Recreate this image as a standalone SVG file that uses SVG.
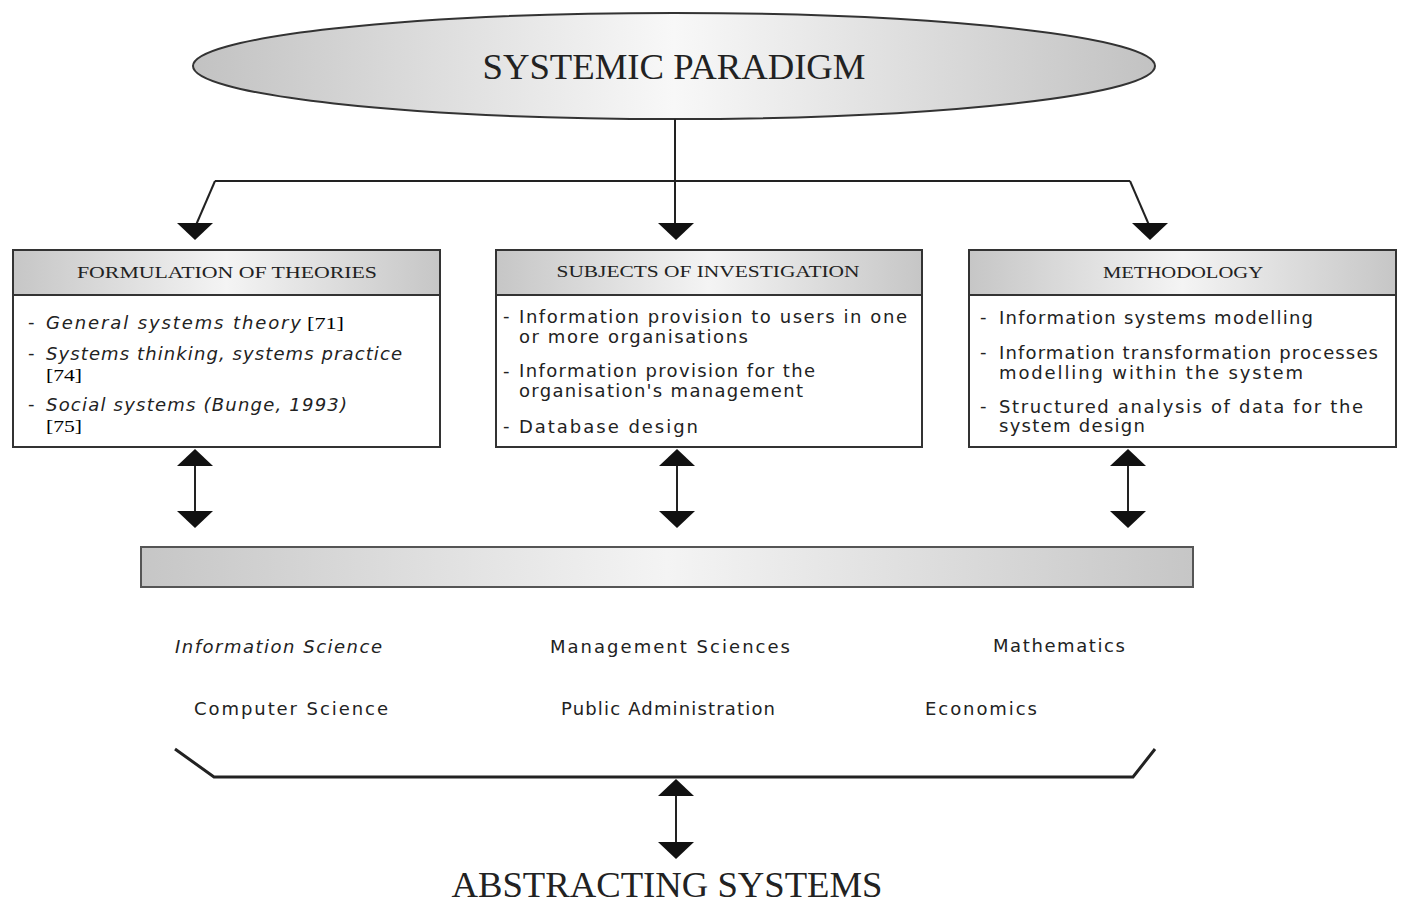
<svg xmlns="http://www.w3.org/2000/svg" width="1404" height="905" viewBox="0 0 1404 905">
  <style>
    .serif { font-family: "Liberation Serif", "Times New Roman", serif; fill: #222; }
    .title { font-size: 35px; }
    .head { font-size: 16px; }
    .body { font-family: "DejaVu Sans", "Liberation Sans", sans-serif; font-size: 18px; fill: #222; }
    .it { font-style: italic; }
    .ref { font-family: "Liberation Serif", serif; font-style: normal; font-size: 17px; }
    .box { fill: #fff; stroke: #333; stroke-width: 2; }
    .band { fill: url(#hgrad); stroke: #333; stroke-width: 2; }
    .line { fill: none; stroke: #222; stroke-width: 2; }
    .head-tri { fill: #111; }
  </style>
  <defs>
    <linearGradient id="hgrad" x1="0" y1="0" x2="1" y2="0">
      <stop offset="0" stop-color="#c6c6c6"/>
      <stop offset="0.5" stop-color="#f4f4f4"/>
      <stop offset="1" stop-color="#c6c6c6"/>
    </linearGradient>
    <linearGradient id="egrad" x1="0" y1="0" x2="1" y2="0">
      <stop offset="0" stop-color="#c2c2c2"/>
      <stop offset="0.5" stop-color="#f8f8f8"/>
      <stop offset="1" stop-color="#c2c2c2"/>
    </linearGradient>
    <!-- filled triangles, tip at origin -->
    <path id="triDown" d="M-18,-17 L18,-17 L0,0 Z"/>
    <path id="triUp" d="M-18,17 L18,17 L0,0 Z"/>
  </defs>

  <rect width="1404" height="905" fill="#fff"/>

  <!-- top ellipse -->
  <g id="paradigm">
    <ellipse cx="674" cy="66" rx="481" ry="53" fill="url(#egrad)" stroke="#333" stroke-width="2"/>
    <text class="serif title" x="674" y="79" text-anchor="middle" textLength="383" lengthAdjust="spacingAndGlyphs">SYSTEMIC  PARADIGM</text>
  </g>

  <!-- connectors -->
  <g id="connectors">
    <path class="line" d="M675,119 V225"/>
    <path class="line" d="M215,181 H1130"/>
    <path class="line" d="M215,181 L196,225"/>
    <path class="line" d="M1130,181 L1149,225"/>
    <use href="#triDown" class="head-tri" x="195" y="240"/>
    <use href="#triDown" class="head-tri" x="676" y="240"/>
    <use href="#triDown" class="head-tri" x="1150" y="240"/>

    <!-- double arrows between boxes and bar -->
    <path class="line" d="M195,465 V512"/>
    <use href="#triUp" class="head-tri" x="195" y="449"/>
    <use href="#triDown" class="head-tri" x="195" y="528"/>
    <path class="line" d="M677,465 V512"/>
    <use href="#triUp" class="head-tri" x="677" y="449"/>
    <use href="#triDown" class="head-tri" x="677" y="528"/>
    <path class="line" d="M1128,465 V512"/>
    <use href="#triUp" class="head-tri" x="1128" y="449"/>
    <use href="#triDown" class="head-tri" x="1128" y="528"/>

    <!-- bracket -->
    <path d="M175,749 L214,777 H1133 L1155,749" fill="none" stroke="#222" stroke-width="3"/>
    <path class="line" d="M676,795 V843"/>
    <use href="#triUp" class="head-tri" x="676" y="779"/>
    <use href="#triDown" class="head-tri" x="676" y="859"/>
  </g>

  <!-- Formulation of theories -->
  <g id="theories">
    <rect class="box" x="13" y="250" width="427" height="197"/>
    <rect class="band" x="13" y="250" width="427" height="45"/>
    <text class="serif head" x="227" y="278" text-anchor="middle" textLength="300" lengthAdjust="spacingAndGlyphs">FORMULATION  OF  THEORIES</text>
    <text class="body" x="28" y="328">-</text>
    <text class="body it" x="46" y="329" textLength="255" lengthAdjust="spacing">General systems  theory</text>
    <text class="ref" x="307" y="329" textLength="37" lengthAdjust="spacingAndGlyphs">[71]</text>
    <text class="body" x="28" y="359">-</text>
    <text class="body it" x="46" y="360" textLength="356" lengthAdjust="spacing">Systems thinking, systems practice</text>
    <text class="ref" x="46" y="381" textLength="36" lengthAdjust="spacingAndGlyphs">[74]</text>
    <text class="body" x="28" y="410">-</text>
    <text class="body it" x="46" y="411" textLength="301" lengthAdjust="spacing">Social systems (Bunge, 1993)</text>
    <text class="ref" x="46" y="432" textLength="36" lengthAdjust="spacingAndGlyphs">[75]</text>
  </g>

  <!-- Subjects of investigation -->
  <g id="subjects">
    <rect class="box" x="496" y="250" width="426" height="197"/>
    <rect class="band" x="496" y="250" width="426" height="45"/>
    <text class="serif head" x="708" y="277" text-anchor="middle" textLength="303" lengthAdjust="spacingAndGlyphs">SUBJECTS  OF  INVESTIGATION</text>
    <text class="body" x="503" y="322">-</text>
    <text class="body" x="519" y="323" textLength="388" lengthAdjust="spacing">Information provision to users in one</text>
    <text class="body" x="519" y="343" textLength="229" lengthAdjust="spacing">or more organisations</text>
    <text class="body" x="503" y="377">-</text>
    <text class="body" x="519" y="377" textLength="296" lengthAdjust="spacing">Information provision for the</text>
    <text class="body" x="519" y="397" textLength="284" lengthAdjust="spacing">organisation's management</text>
    <text class="body" x="503" y="432">-</text>
    <text class="body" x="519" y="433" textLength="179" lengthAdjust="spacing">Database design</text>
  </g>

  <!-- Methodology -->
  <g id="methodology">
    <rect class="box" x="969" y="250" width="427" height="197"/>
    <rect class="band" x="969" y="250" width="427" height="45"/>
    <text class="serif head" x="1183" y="278" text-anchor="middle" textLength="160" lengthAdjust="spacingAndGlyphs">METHODOLOGY</text>
    <text class="body" x="980" y="323">-</text>
    <text class="body" x="999" y="324" textLength="314" lengthAdjust="spacing">Information systems modelling</text>
    <text class="body" x="980" y="358">-</text>
    <text class="body" x="999" y="359" textLength="379" lengthAdjust="spacing">Information transformation processes</text>
    <text class="body" x="999" y="379" textLength="304" lengthAdjust="spacing">modelling within the system</text>
    <text class="body" x="980" y="412">-</text>
    <text class="body" x="999" y="413" textLength="364" lengthAdjust="spacing">Structured analysis of data for the</text>
    <text class="body" x="999" y="432" textLength="146" lengthAdjust="spacing">system design</text>
  </g>

  <!-- shared disciplines bar -->
  <g id="bar">
    <rect x="141" y="547" width="1052" height="40" fill="url(#hgrad)" stroke="#555" stroke-width="2"/>
  </g>

  <!-- disciplines -->
  <g id="disciplines">
    <text class="body it" x="175" y="653" textLength="207" lengthAdjust="spacing">Information Science</text>
    <text class="body" x="550" y="653" textLength="240" lengthAdjust="spacing">Management Sciences</text>
    <text class="body" x="993" y="652" textLength="132" lengthAdjust="spacing">Mathematics</text>
    <text class="body" x="194" y="715" textLength="194" lengthAdjust="spacing">Computer Science</text>
    <text class="body" x="561" y="715" textLength="214" lengthAdjust="spacing">Public Administration</text>
    <text class="body" x="925" y="715" textLength="112" lengthAdjust="spacing">Economics</text>
  </g>

  <!-- bottom label -->
  <g id="abstracting">
    <text class="serif title" x="667" y="897" text-anchor="middle" textLength="431" lengthAdjust="spacingAndGlyphs">ABSTRACTING  SYSTEMS</text>
  </g>
</svg>
